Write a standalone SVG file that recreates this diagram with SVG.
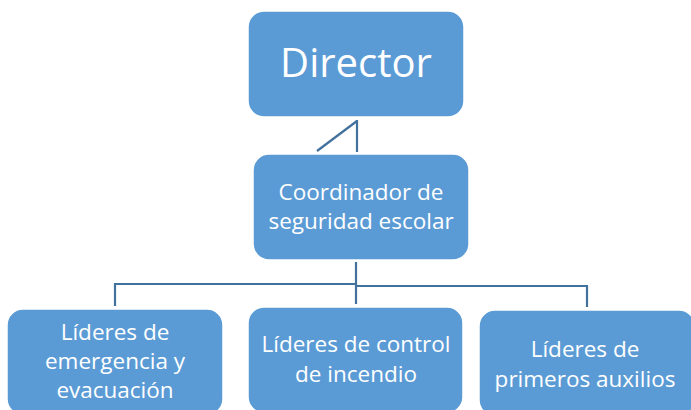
<svg xmlns="http://www.w3.org/2000/svg" width="691" height="410" viewBox="0 0 691 410">
<style>
.box{fill:#5B9BD5;stroke:#FFFFFF;stroke-width:1.5}
.t{font-family:"Open Sans","Liberation Sans",sans-serif;fill:#FFFFFF;text-anchor:middle;font-size:22.5px}
.big{font-size:40px}
.c{fill:none;stroke:#41719C;stroke-width:2.2}
</style>
<rect width="691" height="410" fill="#FFFFFF"/>
<g id="connectors">
<path class="c" d="M357,120 V152"/>
<path class="c" d="M357,121 L317,151"/>
<path class="c" d="M356,262 V304"/>
<path class="c" d="M115,306 V284 H356"/>
<path class="c" d="M356,286 H587 V307"/>
</g>
<g id="director">
<rect class="box" x="248" y="11" width="216" height="106" rx="16"/>
<text class="t big" x="356" y="77">Director</text>
</g>
<g id="coordinador">
<rect class="box" x="253" y="154" width="216" height="106" rx="16"/>
<text class="t" x="361" y="200">Coordinador de</text>
<text class="t" x="361" y="229">seguridad escolar</text>
</g>
<g id="emergencia">
<rect class="box" x="7" y="309" width="216" height="106" rx="16"/>
<text class="t" x="115" y="340">Líderes de</text>
<text class="t" x="115" y="369">emergencia y</text>
<text class="t" x="115" y="398">evacuación</text>
</g>
<g id="incendio">
<rect class="box" x="248" y="307" width="215" height="106" rx="16"/>
<text class="t" x="356" y="352">Líderes de control</text>
<text class="t" x="356" y="382">de incendio</text>
</g>
<g id="auxilios">
<rect class="box" x="479" y="310" width="216" height="106" rx="16"/>
<text class="t" x="585" y="357">Líderes de</text>
<text class="t" x="585" y="387">primeros auxilios</text>
</g>
</svg>
